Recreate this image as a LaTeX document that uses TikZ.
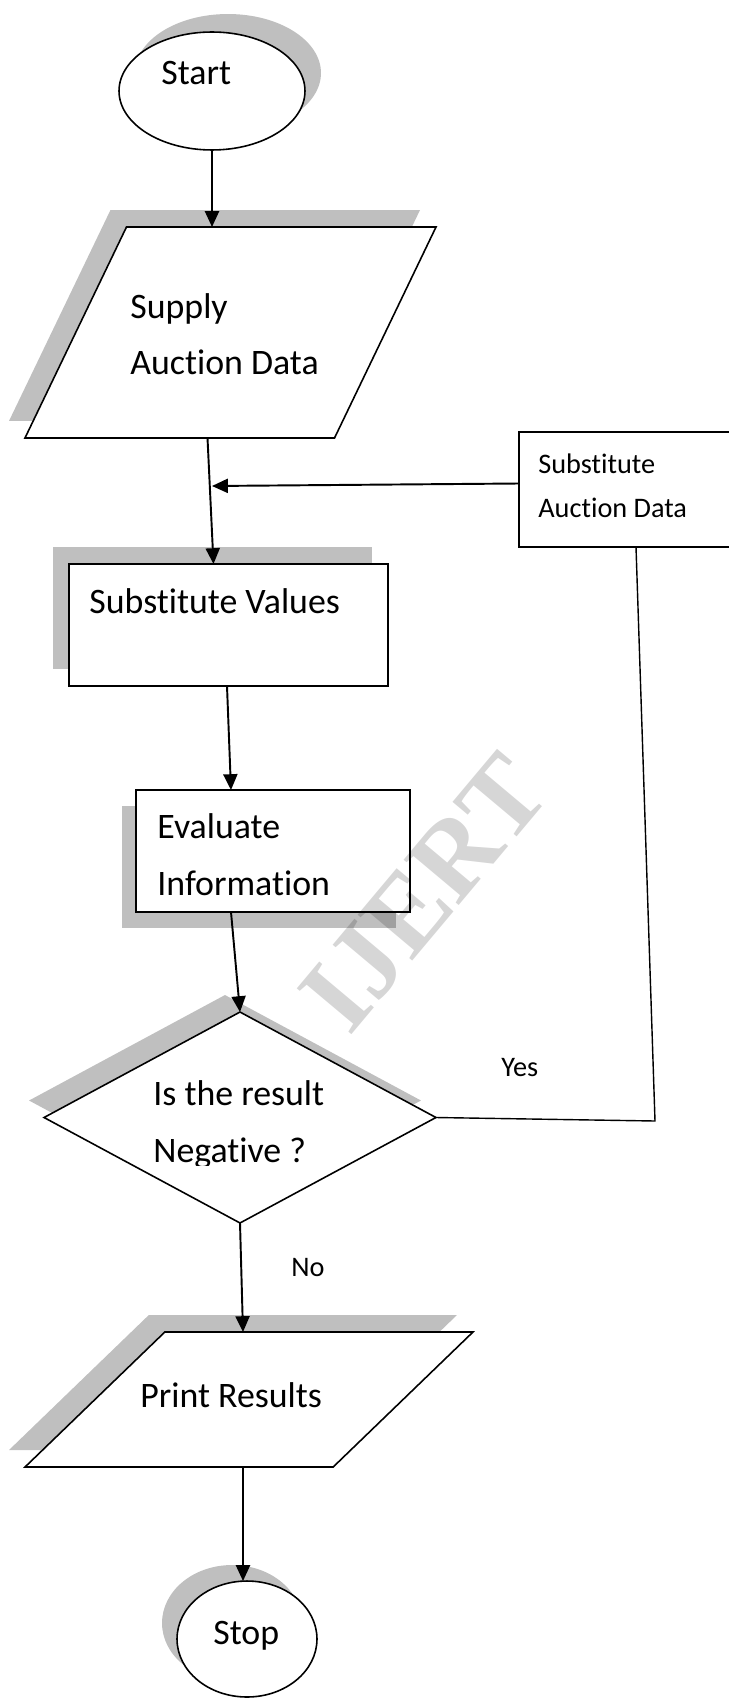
\documentclass[tikz,border=0pt]{standalone}
\usepackage{fontspec}
\setmainfont{Carlito}[Ligatures={NoCommon}]
\newfontfamily\markfont{Liberation Serif}
\usetikzlibrary{shapes.geometric,shadows,arrows.meta}
\definecolor{shadowgray}{RGB}{191,191,191}

\begin{document}
\begin{tikzpicture}[x=0.02cm,y=-0.02cm,
    font=\fontsize{20.4}{32.3}\selectfont,
    >={Triangle[length=9pt,width=8pt]},
    box/.style={draw,line width=0.9pt,fill=white,inner sep=1pt,outer sep=0pt},
    dropsh/.style 2 args={general shadow={fill=shadowgray,shadow xshift=#1,shadow yshift=#2}},
    lbl/.style={anchor=base west,inner sep=0pt,align=left},
    small/.style={font=\fontsize{16.1}{24.9}\selectfont}]
  \useasboundingbox (0,0) rectangle (728,1699);

  \node[box,ellipse,minimum width=3.72cm,minimum height=2.36cm,
        dropsh={0.32cm}{0.36cm}] (start) at (212,91) {};
  \node[box,trapezium,trapezium left angle=64,trapezium right angle=116,
        trapezium stretches,minimum width=8.22cm,minimum height=4.22cm,
        dropsh={-0.32cm}{0.34cm}] (supply) at (230.5,332.5) {};
  \node[box,rectangle,minimum width=4.42cm,minimum height=2.3cm] (subdata) at (629.5,489.5) {};
  \node[box,rectangle,minimum width=6.38cm,minimum height=2.44cm,
        dropsh={-0.32cm}{0.34cm}] (subval) at (228.5,625) {};
  \node[box,rectangle,minimum width=5.48cm,minimum height=2.44cm,
        dropsh={-0.28cm}{-0.32cm}] (evaluate) at (273,851) {};
  \node[box,diamond,shape aspect=1.86,minimum width=7.84cm,minimum height=4.22cm,
        dropsh={-0.3cm}{0.34cm}] (neg) at (240,1117.5) {};
  \node[box,trapezium,trapezium left angle=50.3,trapezium right angle=129.7,
        trapezium stretches,minimum width=8.96cm,minimum height=2.7cm,
        dropsh={-0.32cm}{0.34cm}] (print) at (249,1399.5) {};
  \node[box,ellipse,minimum width=2.8cm,minimum height=2.32cm,
        dropsh={-0.3cm}{0.32cm}] (stop) at (247,1639) {};

  \node[lbl] (starttxt) at (161,85) {Start};
  \node[lbl] (supplytxt) at (130,375) {Supply\\Auction Data};
  \node[lbl,small] (subdatatxt) at (538,517) {Substitute\\Auction Data};
  \node[lbl] (subvaltxt) at (89,613) {Substitute Values};
  \node[lbl] (evaltxt) at (157,895) {Evaluate\\Information};
  \begin{scope}
    \clip (0,0) rectangle (728,1165);
    \node[lbl] (negtxt) at (153,1162) {Is the result\\Negative ?};
  \end{scope}
  \node[lbl] (printtxt) at (140,1407) {Print Results};
  \node[lbl] (stoptxt) at (213,1644) {Stop};
  \node[lbl,small] (yes) at (501,1076) {Yes};
  \node[lbl,small] (no) at (291,1276) {No};

  \coordinate (join) at (212,486);
  \coordinate (yescorner) at (655,1121);

  \begin{scope}[->,line width=1.1pt]
    \draw (start.south) to (start.south |- supply.north);
    \draw ([shift={(-23,0)}]supply.south) to ([shift={(-15,0)}]subval.north);
    \draw ([shift={(0,-6)}]subdata.west) to (join);
    \draw ([shift={(-1.5,0)}]subval.south) to ([shift={(-42,0)}]evaluate.north);
    \draw ([shift={(-42,0)}]evaluate.south) to (neg.north);
    \draw (neg.south) to ([shift={(-6,0)}]print.north);
    \draw ([shift={(-6,0)}]print.south) to ([shift={(-4,0)}]stop.north);
  \end{scope}
  \draw[line width=0.8pt] (neg.east) -- (yescorner) -- ([shift={(6.5,0)}]subdata.south);

  \node[text opacity=0.16,rotate=50,font=\markfont\bfseries\fontsize{62}{64}\selectfont] (mark) at (424,893) {IJERT};
\end{tikzpicture}
\end{document}
